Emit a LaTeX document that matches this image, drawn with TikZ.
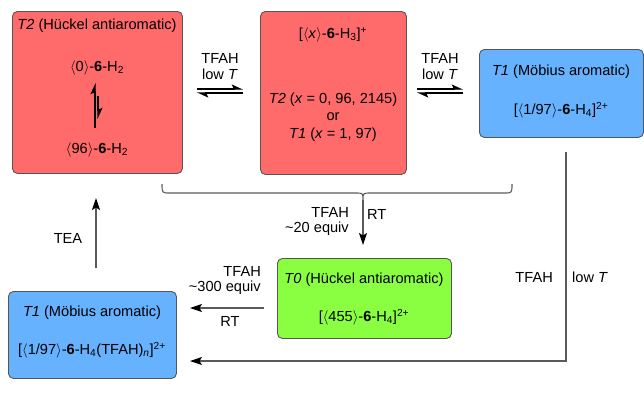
\documentclass[tikz,border=0pt]{standalone}
\usepackage{fontspec}
\setmainfont{Liberation Sans}
\usetikzlibrary{arrows.meta}
\definecolor{boxred}{RGB}{255,106,106}
\definecolor{boxblue}{RGB}{102,178,255}
\definecolor{boxgreen}{RGB}{138,255,66}
\definecolor{edgegray}{RGB}{85,85,85}
\definecolor{linegray}{RGB}{90,90,90}
\newcommand{\ang}[1]{$\langle$#1$\rangle$}
\newcommand{\cmpd}{\textbf{6}}
\begin{document}
\begin{tikzpicture}[x=1pt,y=-1pt,
  every node/.style={font=\fontsize{14.6}{16}\selectfont, inner sep=0pt},
  panel/.style={draw=edgegray, line width=0.9pt, rounded corners=5pt, anchor=north west},
  conn/.style={draw=linegray, line width=1.1pt},
  arr/.style={conn, -{Stealth[length=12pt,width=8pt,inset=2.5pt,color=black]}},
  half/.style={draw=black, line width=1.1pt, -{Stealth[left,length=10pt,width=9pt,inset=2pt,color=black]}}]
\useasboundingbox (0,0) rectangle (644,392);

% panels
\node[panel, fill=boxred, minimum width=170pt, minimum height=162pt] (b1) at (12,11) {};
\node[panel, fill=boxred, minimum width=146pt, minimum height=163pt] (b2) at (260,11) {};
\node[panel, fill=boxblue, minimum width=164pt, minimum height=88pt] (b3) at (479,49) {};
\node[panel, fill=boxblue, minimum width=168pt, minimum height=87pt] (b4) at (8,291) {};
\node[panel, fill=boxgreen, minimum width=174pt, minimum height=80pt] (b5) at (277,258) {};

% texts of the first panel
\node (t1a) at (97,26) {\textit{T2} (Hückel antiaromatic)};
\node (t1b) at (97,68) {\ang{0}-\cmpd-H\textsubscript{2}};
\node (t1c) at (97,150) {\ang{96}-\cmpd-H\textsubscript{2}};
\coordinate (v1s) at (95,128);
\coordinate (v1e) at (95,83);
\coordinate (v2s) at (98,96);
\coordinate (v2e) at (98,119);
\draw[half] (v1s) -- (v1e);
\draw[half] (v2s) -- (v2e);

% texts of the second panel
\node (t2a) at (333,35) {[\ang{\textit{x}}-\cmpd-H\textsubscript{3}]\textsuperscript{+}};
\node (t2b) at (333,100) {\textit{T2} (\textit{x} = 0, 96, 2145)};
\node (t2c) at (333,117) {or};
\node (t2d) at (333,135) {\textit{T1} (\textit{x} = 1, 97)};

% texts of the third panel
\node (t3a) at (561,72) {\textit{T1} (Möbius aromatic)};
\node (t3b) at (561,110) {[\ang{1/97}-\cmpd-H\textsubscript{4}]\textsuperscript{2+}};

% texts of the fourth panel
\node (t4a) at (92,313) {\textit{T1} (Möbius aromatic)};
\node (t4b) at (92,350) {[\ang{1/97}-\cmpd-H\textsubscript{4}(TFAH)\textsubscript{\textit{n}}]\textsuperscript{2+}};

% texts of the fifth panel
\node (t5a) at (364,280) {\textit{T0} (Hückel antiaromatic)};
\node (t5b) at (364,317) {[\ang{455}-\cmpd-H\textsubscript{4}]\textsuperscript{2+}};

% equilibria along the top row
\coordinate (e1a) at (197,89);
\coordinate (e1b) at (243,89);
\coordinate (e1c) at (243,93);
\coordinate (e1d) at (197,93);
\draw[half] (e1a) -- (e1b);
\draw[half] (e1c) -- (e1d);
\node (l1a) at (220,58) {TFAH};
\node (l1b) at (220,74) {low \textit{T}};

\coordinate (e2a) at (417,89);
\coordinate (e2b) at (463,89);
\coordinate (e2c) at (463,93);
\coordinate (e2d) at (417,93);
\draw[half] (e2a) -- (e2b);
\draw[half] (e2c) -- (e2d);
\node (l2a) at (440,58) {TFAH};
\node (l2b) at (440,74) {low \textit{T}};

% brace under the top row
\coordinate (brl) at (162,184);
\coordinate (brm) at (363,200);
\coordinate (brr) at (512,184);
\coordinate (brtip) at (363,245);
\draw[conn] (brl) .. controls (162,193) .. (170,193) -- (355,193)
  .. controls (363,193) .. (brm) .. controls (363,193) .. (371,193)
  -- (504,193) .. controls (512,193) .. (brr);
\draw[arr] (brm) -- (brtip);
\node[anchor=east] (l3a) at (349,212) {TFAH};
\node[anchor=east] (l3b) at (349,229) {\textasciitilde20 equiv};
\node[anchor=west] (l3c) at (367,214) {RT};

% from the green panel to the lower blue panel
\coordinate (g1) at (264,308);
\coordinate (g2) at (190,308);
\draw[arr] (g1) -- (g2);
\node[anchor=east] (l4a) at (261,271) {TFAH};
\node[anchor=east] (l4b) at (261,288) {\textasciitilde300 equiv};
\node (l4c) at (230,321) {RT};

% long path from the upper blue panel
\coordinate (r1) at (566,152);
\coordinate (r2) at (566,361);
\coordinate (r3) at (190,361);
\draw[arr] (r1) -- (r2) -- (r3);
\node[anchor=east] (l5a) at (553,277) {TFAH};
\node[anchor=west] (l5b) at (572,277) {low \textit{T}};

% back to the first panel
\coordinate (u1) at (96,268);
\coordinate (u2) at (96,198);
\draw[arr] (u1) -- (u2);
\node (l6) at (68,238) {TEA};
\end{tikzpicture}
\end{document}
